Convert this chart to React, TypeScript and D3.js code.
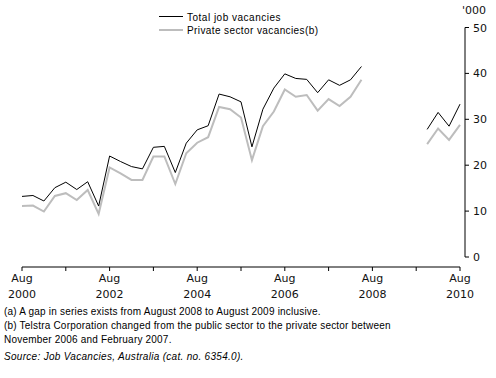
import React from "react";
import * as d3 from "d3";

// Quarterly observations: index 0 = Aug 2000, each step = one quarter; gap Aug 2008 – Aug 2009
const quarterIndex: number[] = Array.from({ length: 41 }, (_, i) => i);
const totalVacancies: (number | null)[] = [
  13.2, 13.4, 12.2, 15.1, 16.3, 14.7, 16.4, 11.1, 22.0, 20.8, 19.7, 19.2,
  23.9, 24.1, 18.4, 24.8, 27.7, 28.6, 35.5, 34.9, 33.8, 24.0, 32.2, 36.8,
  39.9, 38.9, 38.7, 35.8, 38.6, 37.4, 38.6, 41.5,
  null, null, null, null, null,
  27.8, 31.5, 28.5, 33.3,
];
const privateVacancies: (number | null)[] = [
  11.1, 11.2, 9.9, 13.3, 13.9, 12.4, 14.6, 9.4, 19.5, 18.2, 16.8, 16.8,
  21.9, 21.9, 15.9, 22.6, 24.9, 26.1, 32.7, 32.2, 30.4, 21.1, 28.5, 31.7,
  36.5, 34.9, 35.3, 31.9, 34.4, 32.9, 34.9, 38.6,
  null, null, null, null, null,
  24.6, 28.0, 25.5, 28.8,
];
const xTickIndex: number[] = [0, 4, 8, 12, 16, 20, 24, 28, 32, 36, 40];
const xTickLabels: (string[] | null)[] = [
  ["Aug", "2000"], null, ["Aug", "2002"], null, ["Aug", "2004"], null,
  ["Aug", "2006"], null, ["Aug", "2008"], null, ["Aug", "2010"],
];
const yTicks: number[] = [0, 10, 20, 30, 40, 50];
const seriesNames: string[] = ["Total job vacancies", "Private sector vacancies(b)"];
const footnotes: string[] = [
  "(a) A gap in series exists from August 2008 to August 2009 inclusive.",
  "(b) Telstra Corporation changed from the public sector to the private sector between",
  "November 2006 and February 2007.",
];
const sourceText = "Source: Job Vacancies, Australia (cat. no. 6354.0).";

export default function App() {
  const x = d3.scaleLinear().domain([0, 40]).range([22, 460]);
  const y = d3.scaleLinear().domain([0, 50]).range([257, 27.5]);
  const mk = (vals: (number | null)[]) =>
    d3
      .line<number>()
      .defined((i) => vals[i] != null)
      .x((i) => x(i))
      .y((i) => y(vals[i] as number))(quarterIndex) || "";

  const axisX = 465;
  const xAxisY = 267;
  const labelFont = "DejaVu Sans, Verdana, sans-serif";
  const textFont = "Liberation Sans, Arial, sans-serif";

  return (
    <svg
      width={496}
      height={378}
      style={{ position: "absolute", left: 0, top: 0, background: "#fff" }}
    >
      <rect x={0} y={0} width={496} height={378} fill="#fff" />
      {/* series */}
      <path d={mk(privateVacancies)} fill="none" stroke="#bdbdbd" strokeWidth={2} />
      <path d={mk(totalVacancies)} fill="none" stroke="#000" strokeWidth={1} />

      {/* legend */}
      <line x1={159} x2={183} y1={16.5} y2={16.5} stroke="#000" strokeWidth={1} />
      <text x={187} y={20.5} fontFamily={textFont} fontSize={10} letterSpacing={0.5}>
        {seriesNames[0]}
      </text>
      <line x1={159} x2={183} y1={30} y2={30} stroke="#bdbdbd" strokeWidth={2} />
      <text x={187} y={34} fontFamily={textFont} fontSize={10} letterSpacing={0.4}>
        {seriesNames[1]}
      </text>

      {/* y axis */}
      <line x1={axisX} x2={axisX} y1={y(50)} y2={y(0)} stroke="#000" />
      {yTicks.map((t) => (
        <g key={t}>
          <line x1={axisX} x2={axisX + 4} y1={y(t)} y2={y(t)} stroke="#000" />
          <text
            x={473}
            y={y(t) + 4}
            fontFamily={labelFont}
            fontSize={11}
            fill="#111"
          >
            {t}
          </text>
        </g>
      ))}
      <text x={462} y={13.5} fontFamily={labelFont} fontSize={11} fill="#111">
        '000
      </text>

      {/* x axis */}
      <line x1={x(0)} x2={x(40)} y1={xAxisY} y2={xAxisY} stroke="#000" />
      {xTickIndex.map((t, k) => (
        <g key={t}>
          <line x1={x(t)} x2={x(t)} y1={xAxisY} y2={xAxisY + 4} stroke="#000" />
          {xTickLabels[k] && (
            <text textAnchor="middle" fontFamily={labelFont} fontSize={11} fill="#111">
              <tspan x={x(t)} y={281.5}>
                {xTickLabels[k]![0]}
              </tspan>
              <tspan x={x(t)} y={298}>
                {xTickLabels[k]![1]}
              </tspan>
            </text>
          )}
        </g>
      ))}

      {/* footnotes */}
      {footnotes.map((f, i) => (
        <text
          key={i}
          x={4}
          y={315 + i * 14}
          fontFamily={textFont}
          fontSize={10}
          letterSpacing={0.2}
        >
          {f}
        </text>
      ))}
      <text
        x={4}
        y={360}
        fontFamily={textFont}
        fontSize={10}
        fontStyle="italic"
        letterSpacing={0.3}
      >
        {sourceText}
      </text>
    </svg>
  );
}
